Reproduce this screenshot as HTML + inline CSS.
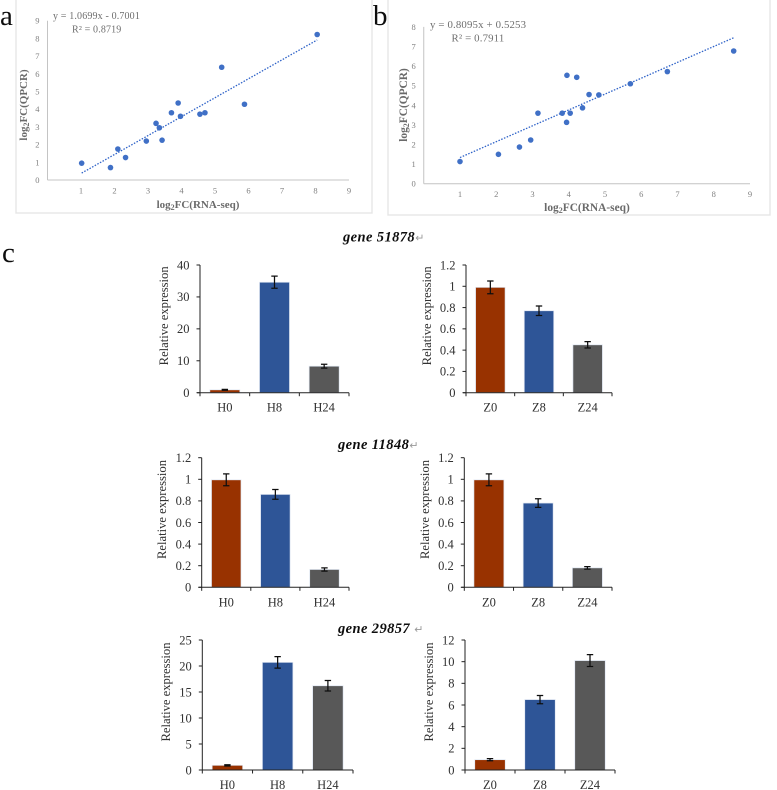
<!DOCTYPE html>
<html lang="en">
<head>
<meta charset="utf-8">
<title>qPCR validation charts</title>
<style>
html,body{margin:0;padding:0;background:#fff;}
svg{display:block;font-family:"Liberation Serif",serif;}
</style>
</head>
<body>
<svg id="fig" width="777" height="790" viewBox="0 0 777 790" xmlns="http://www.w3.org/2000/svg">
<defs><filter id="soft" x="-5%" y="-5%" width="110%" height="110%"><feGaussianBlur stdDeviation="0.35"/></filter></defs>
<g id="root" filter="url(#soft)"></g>
</svg>
<script>
// Scatter data
const scatterAX = [1.02,1.88,2.1,2.33,2.95,3.24,3.34,3.42,3.7,3.9,3.97,4.55,4.7,5.2,5.88,8.05];
const scatterAY = [0.95,0.7,1.75,1.27,2.2,3.2,2.95,2.25,3.8,4.35,3.6,3.72,3.8,6.37,4.28,8.22];
const scatterBX = [1,2.06,2.64,2.95,3.15,3.82,3.94,3.95,4.04,4.22,4.38,4.56,4.83,5.7,6.72,8.55];
const scatterBY = [1.13,1.5,1.87,2.23,3.6,3.6,3.13,5.53,3.6,5.43,3.87,4.55,4.53,5.1,5.72,6.77];
const fitA = [1.0699,-0.7001];
const fitB = [0.8095,0.5253];
const scatterXTicks = [1,2,3,4,5,6,7,8,9];
const scatterAYTicks = [0,1,2,3,4,5,6,7,8,9];
const scatterBYTicks = [0,1,2,3,4,5,6,7,8];

// Bar data
const hoursH = ['H0','H8','H24'];
const hoursZ = ['Z0','Z8','Z24'];
const g51878H = [0.9,34.6,8.3];
const g51878HErr = [0.15,1.9,0.6];
const g51878Z = [0.99,0.77,0.45];
const g51878ZErr = [0.06,0.045,0.03];
const g11848H = [0.995,0.86,0.165];
const g11848HErr = [0.055,0.045,0.015];
const g11848Z = [0.995,0.78,0.18];
const g11848ZErr = [0.055,0.04,0.012];
const g29857H = [0.9,20.7,16.2];
const g29857HErr = [0.12,1.1,1.0];
const g29857Z = [0.95,6.5,10.1];
const g29857ZErr = [0.1,0.38,0.55];
const ticks40 = [0,10,20,30,40];
const ticks1p2 = [0,0.2,0.4,0.6,0.8,1,1.2];
const ticks25 = [0,5,10,15,20,25];
const ticks12 = [0,2,4,6,8,10,12];

const NS = 'http://www.w3.org/2000/svg';
const root = document.getElementById('root');
const barColors = ['#983300','#2F5597','#595959'];

function make(tag, attrs, parent, txt) {
  const el = document.createElementNS(NS, tag);
  for (const k in attrs) el.setAttribute(k, attrs[k]);
  if (txt !== undefined) el.textContent = txt;
  (parent || root).appendChild(el);
  return el;
}

function scatter(cfg) {
  const g = make('g', {});
  
  
  const frame = make('rect', {x:cfg.fx, y:cfg.fy, width:cfg.fw, height:cfg.fh, fill:'#fff', stroke:'#e6e6e6', 'stroke-width':1.4}, g);
  
  
  const sx = v => cfg.x0 + v * cfg.ux;
  const sy = v => cfg.y0 - v * cfg.uy;
  const yMax = cfg.yTicks[cfg.yTicks.length - 1];
  const xMax = scatterXTicks[scatterXTicks.length - 1];
  const yAxis = make('line', {x1:sx(0), x2:sx(0), y1:sy(0), y2:sy(yMax), stroke:'#c4c4c4', 'stroke-width':1}, g);
  
  
  const xAxis = make('line', {x1:sx(0), x2:sx(xMax), y1:sy(0), y2:sy(0), stroke:'#c4c4c4', 'stroke-width':1}, g);
  
  
  scatterXTicks.forEach(t => {
    const lb = make('text', {x:sx(t), y:sy(0)+13.5, 'text-anchor':'middle', 'font-size':8.5, fill:'#808080'}, g, String(t));
    
    
  });
  cfg.yTicks.forEach(t => {
    const lb = make('text', {x:sx(0)-8, y:sy(t)+3, 'text-anchor':'end', 'font-size':8.5, fill:'#808080'}, g, String(t));
    
    
  });
  const lo = Math.min(...cfg.xs), hi = Math.max(...cfg.xs);
  const fn = v => cfg.fit[0] * v + cfg.fit[1];
  const tl = make('line', {x1:sx(lo), y1:sy(fn(lo)), x2:sx(hi), y2:sy(fn(hi)), stroke:'#2E62C8', 'stroke-width':1.3, 'stroke-dasharray':'1.5 1.5'}, g);
  
  
  cfg.xs.forEach((v, i) => {
    const p = make('circle', {cx:sx(v), cy:sy(cfg.ys[i]), r:2.8, fill:'#3F6FC6'}, g);
    
    
  });
  const eq = make('text', {x:cfg.eqx, y:cfg.eqy, 'font-size':cfg.eqSize, fill:'#6e6e6e', 'letter-spacing':'0.15'}, g, cfg.eq);
  
  
  const r2 = make('text', {x:cfg.rx, y:cfg.eqy+13.5, 'font-size':cfg.eqSize, fill:'#6e6e6e', 'letter-spacing':'0.15'}, g, cfg.r2);
  
  
  const xt = make('text', {x:cfg.xtx, y:cfg.xty, 'text-anchor':'middle', 'font-size':cfg.titleSize, 'font-weight':'bold', fill:'#6a6a6a'}, g);
  
  
  xt.innerHTML = 'log<tspan font-size="8" dy="2">2</tspan><tspan dy="-2">FC(RNA-seq)</tspan>';
  const yt = make('text', {transform:'translate('+cfg.ytx+' '+cfg.yty+') rotate(-90)', 'text-anchor':'middle', 'font-size':cfg.titleSize, 'font-weight':'bold', fill:'#6a6a6a'}, g);
  
  
  yt.innerHTML = 'log<tspan font-size="8" dy="2">2</tspan><tspan dy="-2">FC(QPCR)</tspan>';
}

function bars(cfg) {
  const g = make('g', {});
  
  
  const yMax = cfg.ticks[cfg.ticks.length - 1];
  const sy = v => cfg.y0 - v / yMax * (cfg.y0 - cfg.top);
  const band = (cfg.x1 - cfg.x0) / cfg.cats.length;
  const cx = i => cfg.x0 + band * (i + 0.5);
  cfg.vals.forEach((v, i) => {
    const b = make('rect', {x:cx(i)-cfg.bw/2, y:sy(v), width:cfg.bw, height:cfg.y0-sy(v), fill:barColors[i], stroke:'#dfe6f2', 'stroke-width':0.7}, g);
    
    
    const e = cfg.errs[i];
    const eb = make('path', {d:'M'+(cx(i)-3.2)+' '+sy(v+e)+'H'+(cx(i)+3.2)+'M'+cx(i)+' '+sy(v+e)+'V'+sy(v-e)+'M'+(cx(i)-3.2)+' '+sy(v-e)+'H'+(cx(i)+3.2), fill:'none', stroke:'#111', 'stroke-width':1.25}, g);
    
    
    const lb = make('text', {x:cx(i), y:cfg.y0+19, 'text-anchor':'middle', 'font-size':12.5, fill:'#303030'}, g, cfg.cats[i]);
    
    
  });
  const ya = make('line', {x1:cfg.x0, x2:cfg.x0, y1:cfg.y0, y2:cfg.top, stroke:'#222', 'stroke-width':1}, g);
  
  
  const xa = make('line', {x1:cfg.x0-3, x2:cfg.x1, y1:cfg.y0, y2:cfg.y0, stroke:'#222', 'stroke-width':1}, g);
  
  
  cfg.ticks.forEach(t => {
    const tk = make('line', {x1:cfg.x0-3.5, x2:cfg.x0, y1:sy(t), y2:sy(t), stroke:'#222', 'stroke-width':1}, g);
    
    
    const lb = make('text', {x:cfg.x0-10.5, y:sy(t)+4.3, 'text-anchor':'end', 'font-size':12.5, fill:'#303030'}, g, String(t));
    
    
  });
  for (let i = 0; i <= cfg.cats.length; i++) {
    const tk = make('line', {x1:cfg.x0+band*i, x2:cfg.x0+band*i, y1:cfg.y0, y2:cfg.y0+3.5, stroke:'#222', 'stroke-width':1}, g);
    
    
  }
  const yt = make('text', {transform:'translate('+cfg.ytx+' '+((cfg.y0+cfg.top)/2-13)+') rotate(-90)', 'text-anchor':'middle', 'font-size':12.6, fill:'#303030'}, g, 'Relative expression');
  
  
}

function panelLabel(t, x, y) {
  const el = make('text', {x:x, y:y, 'font-size':29, fill:'#111'}, root, t);
  
  
}

function geneTitle(t, x, y) {
  const el = make('text', {x:x, y:y, 'font-size':14.5, 'font-weight':'bold', 'font-style':'italic', fill:'#111', 'letter-spacing':'0.4'}, root, t);
  
  
  const arrow = make('tspan', {'font-size':11, 'font-weight':'normal', 'font-style':'normal', fill:'#999', 'font-family':'"DejaVu Sans",sans-serif'}, el, '\u21B5');
  
  
}

scatter({name:'scatter-a', fx:16, fy:-1, fw:356, fh:214, x0:47.5, y0:180, ux:33.5, uy:17.7,
  xs:scatterAX, ys:scatterAY, fit:fitA, yTicks:scatterAYTicks,
  eq:'y = 1.0699x - 0.7001', r2:'R\u00B2 = 0.8719', eqx:53, eqy:19, rx:72, eqSize:10, titleSize:11,
  xtx:198, xty:208, ytx:27, yty:105});
scatter({name:'scatter-b', fx:388, fy:-1, fw:382, fh:216, x0:423.75, y0:183.7, ux:36.25, uy:19.6,
  xs:scatterBX, ys:scatterBY, fit:fitB, yTicks:scatterBYTicks,
  eq:'y = 0.8095x + 0.5253', r2:'R\u00B2 = 0.7911', eqx:430, eqy:28, rx:451.5, eqSize:10.8, titleSize:11.4,
  xtx:587, xty:211, ytx:407, yty:105});

panelLabel('a', 0, 25);
panelLabel('b', 373, 25);
panelLabel('c', 2, 262);

geneTitle('gene 51878', 343, 241.5);
geneTitle('gene 11848', 338, 449);
geneTitle('gene 29857 ', 338, 633);

bars({name:'chart-51878-h', x0:200, x1:349, y0:392.7, top:265, bw:30, cats:hoursH, vals:g51878H, errs:g51878HErr, ticks:ticks40, ytx:168});
bars({name:'chart-51878-z', x0:466, x1:612, y0:392.7, top:265, bw:29.5, cats:hoursZ, vals:g51878Z, errs:g51878ZErr, ticks:ticks1p2, ytx:431});
bars({name:'chart-11848-h', x0:201.7, x1:349, y0:587.3, top:457.7, bw:29.5, cats:hoursH, vals:g11848H, errs:g11848HErr, ticks:ticks1p2, ytx:166});
bars({name:'chart-11848-z', x0:464.3, x1:612, y0:587.3, top:457.7, bw:30, cats:hoursZ, vals:g11848Z, errs:g11848ZErr, ticks:ticks1p2, ytx:429});
bars({name:'chart-29857-h', x0:202.3, x1:353, y0:770, top:640, bw:30.5, cats:hoursH, vals:g29857H, errs:g29857HErr, ticks:ticks25, ytx:170});
bars({name:'chart-29857-z', x0:465, x1:615, y0:770, top:640, bw:30.5, cats:hoursZ, vals:g29857Z, errs:g29857ZErr, ticks:ticks12, ytx:433});
</script>
</body>
</html>
